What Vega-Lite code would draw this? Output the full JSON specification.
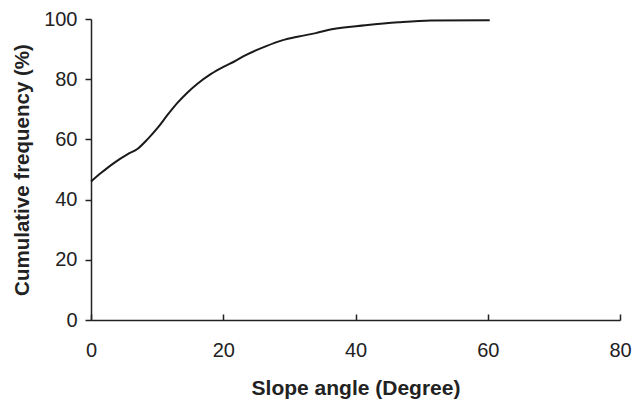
{
  "$schema": "https://vega.github.io/schema/vega-lite/v6.json",
  "width": 529,
  "height": 301,
  "autosize": "none",
  "padding": {"left": 91, "top": 19, "right": 13, "bottom": 81},
  "background": "white",
  "config": {"view": {"stroke": null}, "font": "Liberation Sans"},
  "data": {"values": [
    {"slope": 0, "freq": 46.0},
    {"slope": 1.55, "freq": 48.9},
    {"slope": 3.56, "freq": 52.3},
    {"slope": 5.56, "freq": 55.1},
    {"slope": 7.07, "freq": 56.9},
    {"slope": 8.57, "freq": 60.1},
    {"slope": 10.1, "freq": 63.9},
    {"slope": 11.6, "freq": 68.2},
    {"slope": 13.1, "freq": 72.2},
    {"slope": 14.6, "freq": 75.6},
    {"slope": 16.1, "freq": 78.5},
    {"slope": 18.1, "freq": 81.7},
    {"slope": 20.1, "freq": 84.2},
    {"slope": 21.6, "freq": 85.8},
    {"slope": 23.4, "freq": 88.0},
    {"slope": 26.5, "freq": 91.0},
    {"slope": 28.9, "freq": 92.9},
    {"slope": 31.4, "freq": 94.2},
    {"slope": 34.0, "freq": 95.3},
    {"slope": 36.4, "freq": 96.6},
    {"slope": 41.5, "freq": 97.9},
    {"slope": 46.5, "freq": 98.9},
    {"slope": 51.4, "freq": 99.5},
    {"slope": 60.3, "freq": 99.6}
  ]},
  "mark": {"type": "line", "color": "#1a1a1a", "strokeWidth": 2, "interpolate": "monotone"},
  "encoding": {
    "x": {
      "field": "slope", "type": "quantitative",
      "scale": {"domain": [0, 80], "nice": false, "zero": false},
      "axis": {
        "title": "Slope angle (Degree)",
        "values": [0, 20, 40, 60, 80],
        "grid": false,
        "domainColor": "#222", "domainWidth": 1.5,
        "tickColor": "#222", "tickWidth": 1.5, "tickSize": -6,
        "labelFontSize": 20, "labelColor": "#222", "labelPadding": 26,
        "labelFlush": false,
        "titleFontSize": 21, "titleFontWeight": "bold", "titleColor": "#222",
        "titlePadding": 17
      }
    },
    "y": {
      "field": "freq", "type": "quantitative",
      "scale": {"domain": [0, 100], "nice": false},
      "axis": {
        "title": "Cumulative frequency (%)",
        "values": [0, 20, 40, 60, 80, 100],
        "grid": false,
        "domainColor": "#222", "domainWidth": 1.5,
        "tickColor": "#222", "tickWidth": 1.5, "tickSize": 6,
        "labelFontSize": 20, "labelColor": "#222", "labelPadding": 8,
        "labelFlush": false,
        "titleFontSize": 20.5, "titleFontWeight": "bold", "titleColor": "#222",
        "titlePadding": 11
      }
    }
  }
}
